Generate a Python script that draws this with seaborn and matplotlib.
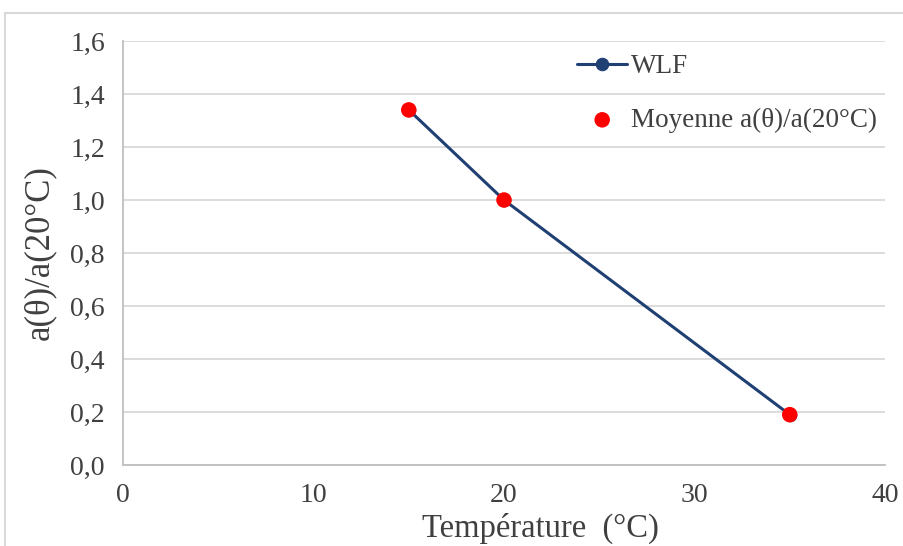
import matplotlib
matplotlib.use("Agg")
import matplotlib.pyplot as plt
import matplotlib.patches as mpatches
import seaborn as sns
import pandas as pd
from matplotlib.ticker import FuncFormatter, MultipleLocator

temperature = [15, 20, 35]
wlf = [1.34, 1.00, 0.19]
moyenne = [1.34, 1.00, 0.19]

sns.set_theme(style="white")
plt.rcParams['font.family'] = ['Liberation Serif', 'DejaVu Serif']

df = pd.DataFrame({"T": temperature, "WLF": wlf, "Moy": moyenne})

fig = plt.figure(figsize=(9.04, 5.46), dpi=100)
ax = fig.add_axes([123/904, 1-465/546, (885-123)/904, (465-41)/546])

navy = "#203F73"
sns.lineplot(data=df, x="T", y="WLF", ax=ax, color=navy, lw=2.2, marker="o",
             markersize=9, markeredgecolor=navy, label="WLF")
sns.scatterplot(data=df, x="T", y="Moy", ax=ax, color="#FF0000", s=125,
                edgecolor="none", label="Moyenne a(\u03b8)/a(20\u00b0C)", zorder=5)

ax.set_xlim(0, 40)
ax.set_ylim(0, 1.6)
ax.xaxis.set_major_locator(MultipleLocator(10))
ax.yaxis.set_major_locator(MultipleLocator(0.2))
ax.yaxis.set_major_formatter(FuncFormatter(lambda v, p: f"{v:.1f}".replace(".", ",")))
ax.grid(axis="y", color="#D9D9D9", lw=1.3)
ax.set_axisbelow(True)
for s in ["top", "right"]:
    ax.spines[s].set_visible(False)
for s in ["left", "bottom"]:
    ax.spines[s].set_color("#BFBFBF")
    ax.spines[s].set_linewidth(1.3)
ax.tick_params(axis="both", which="major", direction="out", length=7, width=1.2,
               color="#BFBFBF", labelsize=20, labelcolor="#404040", pad=6)

ax.set_xlabel("Temp\u00e9rature  (\u00b0C)", fontsize=23.5, color="#404040")
ax.xaxis.set_label_coords((540-123)/762, -(537-465)/424, transform=ax.transAxes)
ax.xaxis.label.set_va("baseline")
ax.set_ylabel("a(\u03b8)/a(20\u00b0C)", fontsize=25, color="#404040")
ax.yaxis.set_label_coords(-(123-40)/762, 0.5, transform=ax.transAxes)
ax.yaxis.label.set_va("center")

leg = ax.legend(loc="upper left", bbox_to_anchor=(0.564, 1.026), frameon=False,
                fontsize=19.5, labelspacing=1.05, handlelength=1.85, handletextpad=0.15,
                labelcolor="#404040")

fig.patches.append(mpatches.Rectangle((5/904, -0.1), 1.2, (546-13)/546 + 0.1,
                                      transform=fig.transFigure, fill=False,
                                      edgecolor="#D9D9D9", lw=1.5))

fig.savefig("out.png", dpi=100)
